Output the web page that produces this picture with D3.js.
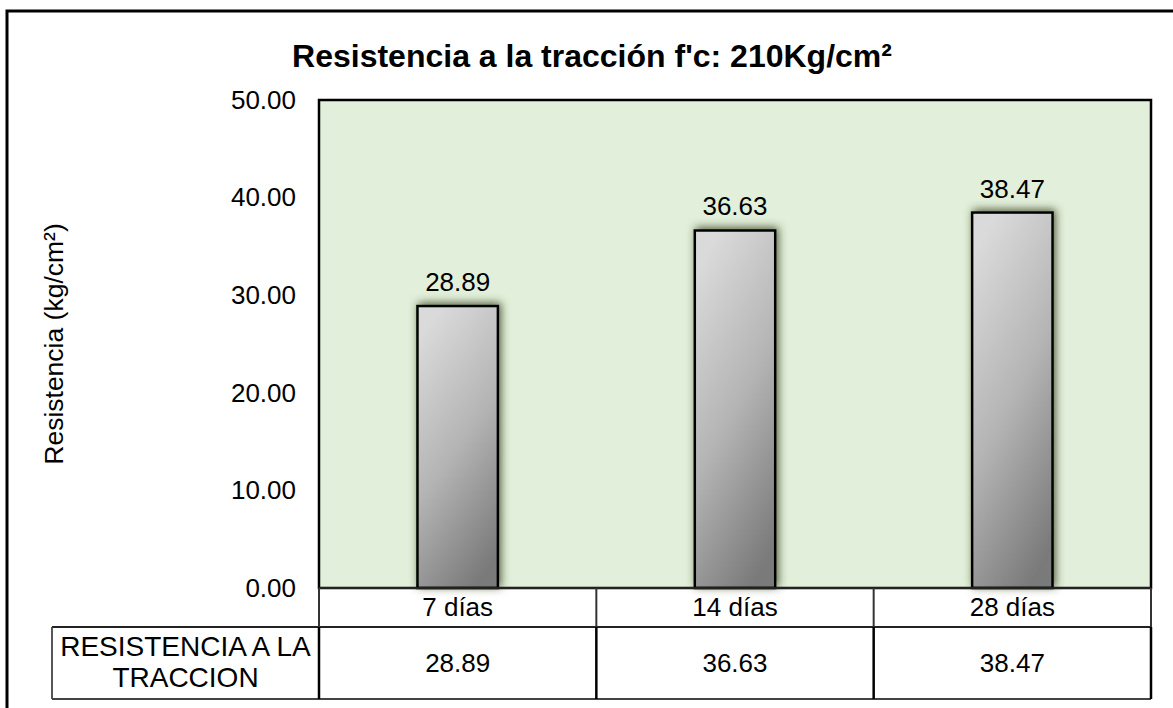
<!DOCTYPE html>
<html>
<head>
<meta charset="utf-8">
<script src="https://cdn.jsdelivr.net/npm/d3@7"></script>
<style>
  html, body { margin: 0; padding: 0; background: #fff; }
  svg { display: block; font-family: "Liberation Sans", Arial, sans-serif; }
</style>
</head>
<body>
<svg id="chart" width="1173" height="708"></svg>
<script>
// Chart data
const categories = ["7 días", "14 días", "28 días"];
const values = [28.89, 36.63, 38.47];
const yTicks = [0, 10, 20, 30, 40, 50];
const seriesName = ["RESISTENCIA A LA", "TRACCION"];
const titleText = "Resistencia a la tracción f'c: 210Kg/cm²";
const yAxisTitle = "Resistencia (kg/cm²)";

const svg = d3.select("#chart");
const plot = { left: 319, right: 1151, top: 100, bottom: 588 };
const table = { row1Bottom: 627, row2Bottom: 699, headerLeft: 52 };
const labelSize = 26;

// Outer chart frame
svg.append("rect")
  .attr("x", 7).attr("y", 11)
  .attr("width", 1300).attr("height", 900)
  .attr("fill", "#fff")
  .attr("stroke", "#000").attr("stroke-width", 3);

const defs = svg.append("defs");
const grad = defs.append("linearGradient")
  .attr("id", "barFill")
  .attr("x1", "0.3").attr("y1", "0").attr("x2", "0.7").attr("y2", "1");
grad.append("stop").attr("offset", "0").attr("stop-color", "#dadada");
grad.append("stop").attr("offset", "0.5").attr("stop-color", "#b4b4b4");
grad.append("stop").attr("offset", "1").attr("stop-color", "#7a7a7a");

const shadow = defs.append("filter")
  .attr("id", "barShadow")
  .attr("x", "-30%").attr("y", "-30%").attr("width", "160%").attr("height", "160%");
shadow.append("feDropShadow")
  .attr("dx", 2).attr("dy", -2).attr("stdDeviation", 4)
  .attr("flood-color", "#2e3a1c").attr("flood-opacity", 0.8);

// Scales
const x = d3.scaleBand().domain(categories).range([plot.left, plot.right]).padding(0);
const y = d3.scaleLinear().domain([0, 50]).range([plot.bottom, plot.top]);

// Plot area background
svg.append("rect")
  .attr("x", plot.left).attr("y", plot.top)
  .attr("width", plot.right - plot.left).attr("height", plot.bottom - plot.top)
  .attr("fill", "#e2efda");

// Bars
const barW = x.bandwidth() * 0.29;
svg.append("g").selectAll("rect")
  .data(values)
  .join("rect")
  .attr("x", (d, i) => x(categories[i]) + x.bandwidth() / 2 - barW / 2)
  .attr("y", d => y(d))
  .attr("width", barW)
  .attr("height", d => y(0) - y(d))
  .attr("fill", "url(#barFill)")
  .attr("stroke", "#000").attr("stroke-width", 2.5)
  .attr("filter", "url(#barShadow)");

// Value labels above bars
svg.append("g").selectAll("text")
  .data(values)
  .join("text")
  .attr("x", (d, i) => x(categories[i]) + x.bandwidth() / 2)
  .attr("y", d => y(d) - 15)
  .attr("text-anchor", "middle")
  .attr("font-size", labelSize)
  .attr("fill", "#000")
  .text(d => d.toFixed(2));

// Plot border
svg.append("rect")
  .attr("x", plot.left).attr("y", plot.top)
  .attr("width", plot.right - plot.left).attr("height", plot.bottom - plot.top)
  .attr("fill", "none")
  .attr("stroke", "#000").attr("stroke-width", 2.5);

// Y axis labels
const yAxis = d3.axisLeft(y).tickValues(yTicks).tickFormat(d3.format(".2f")).tickSize(0).tickPadding(23);
const gy = svg.append("g").attr("transform", `translate(${plot.left},0)`).call(yAxis);
gy.select(".domain").remove();
gy.selectAll("text").attr("font-size", labelSize).attr("fill", "#000")
  .attr("font-family", "'Liberation Sans', Arial, sans-serif");

// Data table: category row
const tbl = svg.append("g");
tbl.append("line")
  .attr("x1", plot.left).attr("x2", plot.right)
  .attr("y1", plot.bottom).attr("y2", plot.bottom)
  .attr("stroke", "#222").attr("stroke-width", 2);
tbl.append("line")
  .attr("x1", table.headerLeft).attr("x2", plot.right)
  .attr("y1", table.row1Bottom).attr("y2", table.row1Bottom)
  .attr("stroke", "#222").attr("stroke-width", 2);
tbl.append("line")
  .attr("x1", table.headerLeft).attr("x2", plot.right)
  .attr("y1", table.row2Bottom).attr("y2", table.row2Bottom)
  .attr("stroke", "#444").attr("stroke-width", 1.8);
tbl.append("line")
  .attr("x1", table.headerLeft).attr("x2", table.headerLeft)
  .attr("y1", table.row1Bottom).attr("y2", table.row2Bottom)
  .attr("stroke", "#444").attr("stroke-width", 1.8);

// Column dividers (band boundaries)
const bounds = categories.map(c => x(c)).concat([plot.right]);
tbl.selectAll("line.div1")
  .data(bounds)
  .join("line")
  .attr("class", "div1")
  .attr("x1", d => d).attr("x2", d => d)
  .attr("y1", plot.bottom).attr("y2", table.row1Bottom)
  .attr("stroke", "#333").attr("stroke-width", 2);
tbl.selectAll("line.div2")
  .data(bounds)
  .join("line")
  .attr("class", "div2")
  .attr("x1", d => d).attr("x2", d => d)
  .attr("y1", table.row1Bottom).attr("y2", table.row2Bottom)
  .attr("stroke", "#000").attr("stroke-width", 2.5);

// Category labels
tbl.selectAll("text.cat")
  .data(categories)
  .join("text")
  .attr("class", "cat")
  .attr("x", d => x(d) + x.bandwidth() / 2)
  .attr("y", 616)
  .attr("text-anchor", "middle")
  .attr("font-size", labelSize)
  .text(d => d);

// Value row
tbl.selectAll("text.val")
  .data(values)
  .join("text")
  .attr("class", "val")
  .attr("x", (d, i) => x(categories[i]) + x.bandwidth() / 2)
  .attr("y", 672)
  .attr("text-anchor", "middle")
  .attr("font-size", labelSize)
  .text(d => d.toFixed(2));

// Series header cell
tbl.selectAll("text.hdr")
  .data(seriesName)
  .join("text")
  .attr("class", "hdr")
  .attr("x", (table.headerLeft + plot.left) / 2)
  .attr("y", (d, i) => 656 + i * 31)
  .attr("text-anchor", "middle")
  .attr("font-size", 28)
  .text(d => d);

// Title
svg.append("text")
  .attr("x", 592).attr("y", 67)
  .attr("text-anchor", "middle")
  .attr("font-size", 32).attr("font-weight", "bold")
  .text(titleText);

// Y axis title
svg.append("text")
  .attr("transform", `translate(63,344) rotate(-90)`)
  .attr("text-anchor", "middle")
  .attr("font-size", 26.5)
  .text(yAxisTitle);
</script>
</body>
</html>
